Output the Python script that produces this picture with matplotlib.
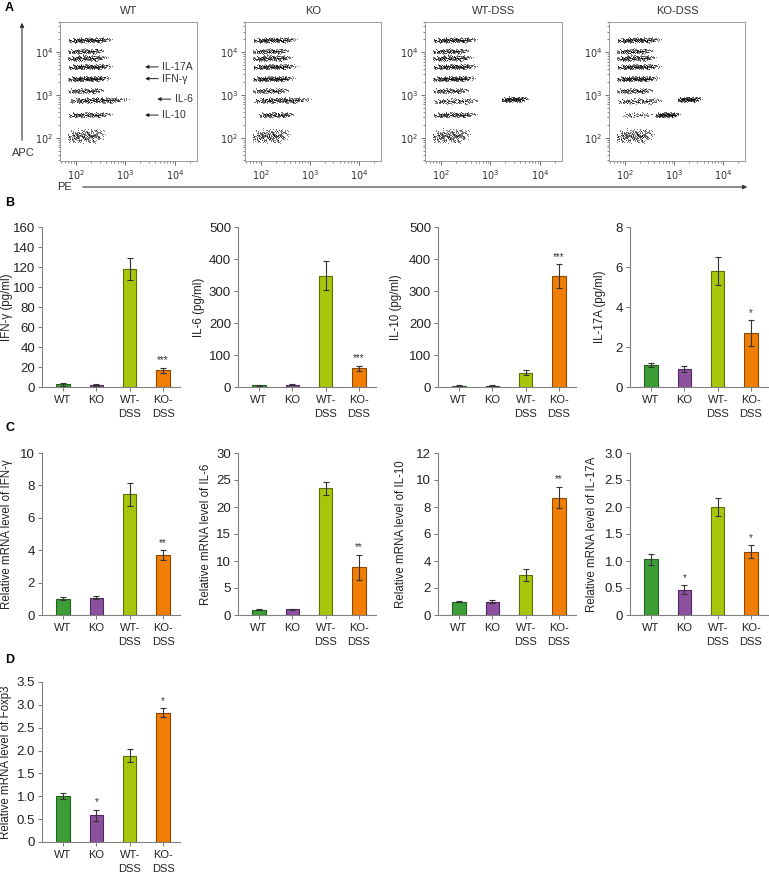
import numpy as np
import matplotlib
matplotlib.use('Agg')
import matplotlib.pyplot as plt
from matplotlib.ticker import LogLocator, NullFormatter, FixedLocator
from matplotlib.patches import FancyArrowPatch

plt.rcParams['font.family'] = ['Liberation Sans', 'DejaVu Sans']
plt.rcParams['axes.linewidth'] = 0.8

W, H = 769, 874

# ---------------- data ----------------
groups = ['WT', 'KO', 'WT-\nDSS', 'KO-\nDSS']
colors = ['#3d9e37', '#8c509f', '#a8c70c', '#f07e05']
edges = ['#25601f', '#4f2a5e', '#5e6e00', '#8c4600']

# panel B: protein (pg/ml)
ifng_pg = [3, 2, 118, 17]
ifng_pg_err = [1.5, 1, 11, 2.5]
il6_pg = [5, 7, 348, 58]
il6_pg_err = [2, 2, 45, 8]
il10_pg = [4, 4, 45, 346]
il10_pg_err = [2, 2, 7, 37]
il17a_pg = [1.1, 0.9, 5.8, 2.7]
il17a_pg_err = [0.1, 0.13, 0.68, 0.65]

# panel C: relative mRNA
ifng_mrna = [1.0, 1.08, 7.45, 3.7]
ifng_mrna_err = [0.1, 0.12, 0.72, 0.3]
il6_mrna = [1.0, 1.05, 23.5, 8.8]
il6_mrna_err = [0.15, 0.1, 1.2, 2.4]
il10_mrna = [1.0, 1.0, 2.95, 8.7]
il10_mrna_err = [0.05, 0.1, 0.45, 0.8]
il17a_mrna = [1.03, 0.47, 2.0, 1.17]
il17a_mrna_err = [0.1, 0.08, 0.16, 0.12]

# panel D
foxp3_mrna = [1.0, 0.58, 1.89, 2.83]
foxp3_mrna_err = [0.07, 0.13, 0.15, 0.1]

# flow bead populations: (log10 APC level, log10 PE low, log10 PE high, n dots, y spread)
common_rows = [
    (4.28, 1.72, 2.80, 300, 0.05),
    (4.02, 1.72, 2.65, 200, 0.05),
    (3.86, 1.72, 2.70, 260, 0.055),
    (3.66, 1.72, 2.80, 300, 0.05),
    (3.38, 1.72, 2.75, 320, 0.05),
    (3.10, 1.72, 2.65, 180, 0.05),
    (2.05, 1.72, 2.65, 320, 0.13),
]
flow_extra = {
    'WT': [(2.88, 1.72, 3.15, 340, 0.055), (2.54, 1.72, 2.80, 240, 0.05)],
    'KO': [(2.88, 1.72, 3.10, 340, 0.055), (2.54, 1.85, 2.75, 220, 0.05)],
    'WT-DSS': [(2.86, 1.72, 2.85, 180, 0.055), (2.90, 3.15, 3.80, 260, 0.05),
               (2.54, 1.72, 2.80, 260, 0.05)],
    'KO-DSS': [(2.86, 1.72, 2.85, 180, 0.055), (2.90, 3.00, 3.60, 240, 0.05),
               (2.54, 1.85, 2.65, 70, 0.05), (2.54, 2.55, 3.15, 240, 0.05)],
}
flow_titles = ['WT', 'KO', 'WT-DSS', 'KO-DSS']
bead_labels = ['IL-17A', 'IFN-γ', 'IL-6', 'IL-10']
bead_label_y = [4.5e3, 2.4e3, 8e2, 3.4e2]
bead_arrow_x = [(2.5e3, 5.6e3), (2.5e3, 5.6e3), (4.4e3, 1.0e4), (2.5e3, 5.6e3)]


def halton(n, base):
    out = np.zeros(n)
    for i in range(n):
        f, r, k = 1.0, 0.0, i + 1
        while k > 0:
            f /= base
            r += f * (k % base)
            k //= base
        out[i] = r
    return out


def px_axes(fig, left, top, right, bottom):
    return fig.add_axes([left / W, 1 - bottom / H, (right - left) / W, (bottom - top) / H])


fig = plt.figure(figsize=(W / 100, H / 100), dpi=100)

# ---------------- panel A ----------------
flow_boxes = [(60, 197), (245, 381), (425, 562), (609, 745)]
for k, (title, (l, r)) in enumerate(zip(flow_titles, flow_boxes)):
    ax = px_axes(fig, l, 22, r, 161)
    xs, ys = [], []
    for m, (yc, xlo, xhi, n, sp) in enumerate(common_rows + flow_extra[title]):
        h1, h2, h3 = halton(n, 2), halton(n, 3), halton(n, 5)
        h4 = halton(n, 7)
        t = 0.65 * h1 + 0.35 * (h2 + h3) / 2
        xs.append(10 ** (xlo + (xhi - xlo) * t))
        ys.append(10 ** (yc + sp * (h4 + h3 - 1.0) * 1.4))
    ax.scatter(np.concatenate(xs), np.concatenate(ys), s=0.5, c='black',
               alpha=0.4, linewidths=0)
    ax.set_xscale('log')
    ax.set_yscale('log')
    ax.set_xlim(47.5, 2.8e4)
    ax.set_ylim(29, 5e4)
    ax.set_xticks([1e2, 1e3, 1e4])
    ax.set_yticks([1e2, 1e3, 1e4])
    ax.set_xticklabels(['$10^2$', '$10^3$', '$10^4$'])
    ax.set_yticklabels(['$10^2$', '$10^3$', '$10^4$'])
    ax.xaxis.set_minor_locator(LogLocator(base=10, subs=np.arange(2, 10)))
    ax.yaxis.set_minor_locator(LogLocator(base=10, subs=np.arange(2, 10)))
    ax.xaxis.set_minor_formatter(NullFormatter())
    ax.yaxis.set_minor_formatter(NullFormatter())
    ax.tick_params(which='major', length=3, width=0.6, labelsize=7, pad=2,
                   colors='#555555', labelcolor='#333333')
    ax.tick_params(which='minor', length=1.5, width=0.5, colors='#555555')
    for s in ax.spines.values():
        s.set_color('#9a9a9a')
        s.set_linewidth(0.7)
    ax.set_title(title, fontsize=8, pad=6, color='#333333')
    if k == 0:
        for lab, yv, (xa, xt) in zip(bead_labels, bead_label_y, bead_arrow_x):
            ax.annotate(lab, xy=(xa, yv), xytext=(xt, yv), fontsize=7.5,
                        va='center', ha='left', color='#333333',
                        arrowprops=dict(arrowstyle='-|>', lw=0.7, color='#222222',
                                        mutation_scale=5, shrinkA=1, shrinkB=0))

fig.add_artist(FancyArrowPatch((22 / W, 1 - 143 / H), (22 / W, 1 - 20 / H),
                               transform=fig.transFigure, arrowstyle='-|>',
                               mutation_scale=6, lw=0.8, color='#333333'))
fig.add_artist(FancyArrowPatch((80 / W, 1 - 187 / H), (750 / W, 1 - 187 / H),
                               transform=fig.transFigure, arrowstyle='-|>',
                               mutation_scale=6, lw=0.8, color='#333333'))
fig.text(23 / W, 1 - 153 / H, 'APC', fontsize=8, ha='center', va='center', color='#333333')
fig.text(65 / W, 1 - 187 / H, 'PE', fontsize=8, ha='center', va='center', color='#333333')

for letter, y in [('A', 8), ('B', 203), ('C', 428), ('D', 660)]:
    fig.text(5 / W, 1 - y / H, letter, fontsize=9, fontweight='bold', va='center')


# ---------------- bar panels ----------------
def bar_panel(left, top, bottom, vals, errs, ymax, step, ylabel, lab_off, stars,
              decimals=False):
    ax = px_axes(fig, left, top, left + 138, bottom)
    x = np.arange(len(groups))
    ax.bar(x, vals, width=0.4, color=colors, edgecolor=edges, linewidth=0.8)
    ax.errorbar(x, vals, yerr=errs, fmt='none', ecolor='#333333', elinewidth=0.8,
                capsize=2.5, capthick=0.8)
    for xi, v, e, s in zip(x, vals, errs, stars):
        if s:
            ax.text(xi, v + e + ymax * 0.015, s, ha='center', va='bottom',
                    fontsize=7, color='#333333')
    ax.set_xlim(-0.63, 3.51)
    ax.set_ylim(0, ymax)
    ticks = np.arange(0, ymax + step / 2, step)
    ax.yaxis.set_major_locator(FixedLocator(ticks))
    if decimals:
        ax.set_yticklabels(['0'] + ['%.1f' % t for t in ticks[1:]])
    ax.set_xticks(x)
    ax.set_xticklabels(groups, fontsize=8, color='#222222', linespacing=1.45)
    ax.tick_params(axis='y', labelsize=9.5, length=3, width=0.7, pad=2,
                   colors='#777777', labelcolor='#222222')
    ax.tick_params(axis='x', length=3, width=0.7, pad=3, colors='#777777',
                   labelcolor='#222222')
    for s in ['top', 'right']:
        ax.spines[s].set_visible(False)
    for s in ['left', 'bottom']:
        ax.spines[s].set_color('#808080')
    ax.set_ylabel(ylabel, fontsize=8.3, color='#222222')
    ax.yaxis.set_label_coords(-lab_off / 138, 0.5)
    return ax


col_left = [42, 238, 438, 630]
bar_panel(col_left[0], 227, 387, ifng_pg, ifng_pg_err, 160, 20, 'IFN-γ (pg/ml)', 29,
          ['', '', '', '***'])
bar_panel(col_left[1], 227, 387, il6_pg, il6_pg_err, 500, 100, 'IL-6 (pg/ml)', 33,
          ['', '', '', '***'])
bar_panel(col_left[2], 227, 387, il10_pg, il10_pg_err, 500, 100, 'IL-10 (pg/ml)', 36,
          ['', '', '', '***'])
bar_panel(col_left[3], 227, 387, il17a_pg, il17a_pg_err, 8, 2, 'IL-17A (pg/ml)', 24,
          ['', '', '', '*'])

bar_panel(col_left[0], 453, 615, ifng_mrna, ifng_mrna_err, 10, 2,
          'Relative mRNA level of IFN-γ', 29, ['', '', '', '**'])
bar_panel(col_left[1], 453, 615, il6_mrna, il6_mrna_err, 30, 5,
          'Relative mRNA level of IL-6', 26, ['', '', '', '**'])
bar_panel(col_left[2], 453, 615, il10_mrna, il10_mrna_err, 12, 2,
          'Relative mRNA level of IL-10', 31, ['', '', '', '**'])
bar_panel(col_left[3], 453, 615, il17a_mrna, il17a_mrna_err, 3.0, 0.5,
          'Relative mRNA level of IL-17A', 32, ['', '*', '', '*'], decimals=True)

bar_panel(col_left[0], 682, 842, foxp3_mrna, foxp3_mrna_err, 3.5, 0.5,
          'Relative mRNA level of Foxp3', 30, ['', '*', '', '*'], decimals=True)

fig.savefig('out.png', dpi=100)
